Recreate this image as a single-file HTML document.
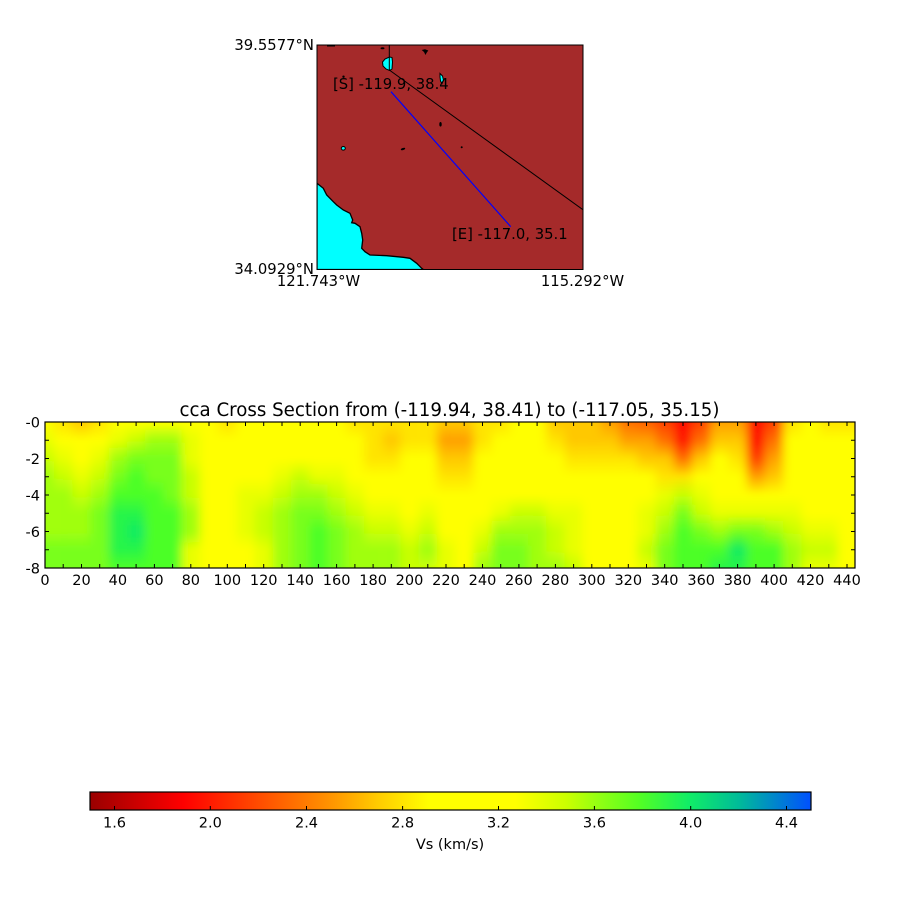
<!DOCTYPE html>
<html><head><meta charset="utf-8"><style>
html,body{margin:0;padding:0;background:#fff;}
svg{display:block;}
text{font-family:"DejaVu Sans","Liberation Sans",sans-serif;fill:#000;}
</style></head><body>
<svg width="900" height="900" viewBox="0 0 900 900" xmlns="http://www.w3.org/2000/svg">
<defs>
<clipPath id="axclip"><rect x="45" y="422" width="810" height="146"/></clipPath>
<clipPath id="mapclip"><rect x="317" y="45" width="266" height="224.5"/></clipPath>
<filter id="bl" filterUnits="userSpaceOnUse" x="-20" y="370" width="940" height="250"><feGaussianBlur stdDeviation="5 3"/></filter>
<linearGradient id="cb" x1="0" y1="0" x2="1" y2="0">
<stop offset="0" stop-color="#990000"/><stop offset="0.13" stop-color="#ff0000"/><stop offset="0.27" stop-color="#ff6600"/><stop offset="0.34" stop-color="#ff9900"/><stop offset="0.40" stop-color="#ffcc00"/><stop offset="0.47" stop-color="#ffff00"/><stop offset="0.59" stop-color="#ffff00"/><stop offset="0.66" stop-color="#ccff00"/><stop offset="0.70" stop-color="#99ff11"/><stop offset="0.76" stop-color="#55ff22"/><stop offset="0.83" stop-color="#11ee66"/><stop offset="0.90" stop-color="#00bb99"/><stop offset="1" stop-color="#0050ff"/>
</linearGradient>
<linearGradient id="c0" gradientUnits="userSpaceOnUse" x1="0" y1="422" x2="0" y2="568"><stop offset="0" stop-color="#ffff00"/><stop offset=".125" stop-color="#e8ff00"/><stop offset=".25" stop-color="#c8ff05"/><stop offset=".375" stop-color="#a0ff10"/><stop offset=".75" stop-color="#a0ff10"/><stop offset=".875" stop-color="#78ff1c"/></linearGradient>
<linearGradient id="c1" gradientUnits="userSpaceOnUse" x1="0" y1="422" x2="0" y2="568"><stop offset="0" stop-color="#ffe400"/><stop offset=".125" stop-color="#ffff00"/><stop offset=".25" stop-color="#e8ff00"/><stop offset=".375" stop-color="#c8ff05"/><stop offset=".5" stop-color="#a0ff10"/><stop offset=".75" stop-color="#a0ff10"/><stop offset=".875" stop-color="#78ff1c"/></linearGradient>
<linearGradient id="c2" gradientUnits="userSpaceOnUse" x1="0" y1="422" x2="0" y2="568"><stop offset="0" stop-color="#ffc800"/><stop offset=".125" stop-color="#ffff00"/><stop offset=".25" stop-color="#ffff00"/><stop offset=".375" stop-color="#e8ff00"/><stop offset=".5" stop-color="#c8ff05"/><stop offset=".625" stop-color="#a0ff10"/><stop offset=".75" stop-color="#a0ff10"/><stop offset=".875" stop-color="#78ff1c"/></linearGradient>
<linearGradient id="c3" gradientUnits="userSpaceOnUse" x1="0" y1="422" x2="0" y2="568"><stop offset="0" stop-color="#ffe400"/><stop offset=".125" stop-color="#ffff00"/><stop offset=".25" stop-color="#e8ff00"/><stop offset=".375" stop-color="#c8ff05"/><stop offset=".5" stop-color="#a0ff10"/><stop offset=".625" stop-color="#78ff1c"/><stop offset="1" stop-color="#78ff1c"/></linearGradient>
<linearGradient id="c4" gradientUnits="userSpaceOnUse" x1="0" y1="422" x2="0" y2="568"><stop offset="0" stop-color="#ffff00"/><stop offset=".125" stop-color="#e8ff00"/><stop offset=".25" stop-color="#a0ff10"/><stop offset=".375" stop-color="#78ff1c"/><stop offset=".5" stop-color="#4cff28"/><stop offset=".625" stop-color="#28f548"/><stop offset=".875" stop-color="#28f548"/><stop offset="1" stop-color="#4cff28"/></linearGradient>
<linearGradient id="c5" gradientUnits="userSpaceOnUse" x1="0" y1="422" x2="0" y2="568"><stop offset="0" stop-color="#ffff00"/><stop offset=".125" stop-color="#c8ff05"/><stop offset=".25" stop-color="#78ff1c"/><stop offset=".375" stop-color="#4cff28"/><stop offset=".5" stop-color="#4cff28"/><stop offset=".625" stop-color="#28f548"/><stop offset=".75" stop-color="#12ec62"/><stop offset=".875" stop-color="#28f548"/><stop offset="1" stop-color="#4cff28"/></linearGradient>
<linearGradient id="c6" gradientUnits="userSpaceOnUse" x1="0" y1="422" x2="0" y2="568"><stop offset="0" stop-color="#ffff00"/><stop offset=".125" stop-color="#a0ff10"/><stop offset=".25" stop-color="#78ff1c"/><stop offset=".375" stop-color="#78ff1c"/><stop offset=".5" stop-color="#4cff28"/><stop offset="1" stop-color="#4cff28"/></linearGradient>
<linearGradient id="c7" gradientUnits="userSpaceOnUse" x1="0" y1="422" x2="0" y2="568"><stop offset="0" stop-color="#ffff00"/><stop offset=".125" stop-color="#a0ff10"/><stop offset=".25" stop-color="#78ff1c"/><stop offset=".5" stop-color="#78ff1c"/><stop offset=".625" stop-color="#4cff28"/><stop offset="1" stop-color="#4cff28"/></linearGradient>
<linearGradient id="c8" gradientUnits="userSpaceOnUse" x1="0" y1="422" x2="0" y2="568"><stop offset="0" stop-color="#ffff00"/><stop offset=".125" stop-color="#e8ff00"/><stop offset=".25" stop-color="#e8ff00"/><stop offset=".375" stop-color="#c8ff05"/><stop offset=".5" stop-color="#c8ff05"/><stop offset=".625" stop-color="#a0ff10"/><stop offset=".75" stop-color="#a0ff10"/><stop offset=".875" stop-color="#e8ff00"/></linearGradient>
<linearGradient id="c9" gradientUnits="userSpaceOnUse" x1="0" y1="422" x2="0" y2="568"><stop offset="0" stop-color="#ffff00"/></linearGradient>
<linearGradient id="c10" gradientUnits="userSpaceOnUse" x1="0" y1="422" x2="0" y2="568"><stop offset="0" stop-color="#ffe400"/><stop offset=".125" stop-color="#ffff00"/></linearGradient>
<linearGradient id="c11" gradientUnits="userSpaceOnUse" x1="0" y1="422" x2="0" y2="568"><stop offset=".375" stop-color="#ffff00"/><stop offset=".5" stop-color="#e8ff00"/><stop offset=".75" stop-color="#e8ff00"/><stop offset=".875" stop-color="#ffff00"/></linearGradient>
<linearGradient id="c12" gradientUnits="userSpaceOnUse" x1="0" y1="422" x2="0" y2="568"><stop offset=".375" stop-color="#ffff00"/><stop offset=".5" stop-color="#e8ff00"/><stop offset=".625" stop-color="#c8ff05"/><stop offset=".75" stop-color="#c8ff05"/><stop offset=".875" stop-color="#e8ff00"/></linearGradient>
<linearGradient id="c13" gradientUnits="userSpaceOnUse" x1="0" y1="422" x2="0" y2="568"><stop offset=".25" stop-color="#ffff00"/><stop offset=".375" stop-color="#e8ff00"/><stop offset=".5" stop-color="#c8ff05"/><stop offset=".625" stop-color="#a0ff10"/></linearGradient>
<linearGradient id="c14" gradientUnits="userSpaceOnUse" x1="0" y1="422" x2="0" y2="568"><stop offset=".25" stop-color="#ffff00"/><stop offset=".375" stop-color="#c8ff05"/><stop offset=".5" stop-color="#a0ff10"/><stop offset=".625" stop-color="#78ff1c"/><stop offset="1" stop-color="#78ff1c"/></linearGradient>
<linearGradient id="c15" gradientUnits="userSpaceOnUse" x1="0" y1="422" x2="0" y2="568"><stop offset=".25" stop-color="#ffff00"/><stop offset=".375" stop-color="#e8ff00"/><stop offset=".5" stop-color="#a0ff10"/><stop offset=".625" stop-color="#78ff1c"/><stop offset=".75" stop-color="#4cff28"/><stop offset="1" stop-color="#4cff28"/></linearGradient>
<linearGradient id="c16" gradientUnits="userSpaceOnUse" x1="0" y1="422" x2="0" y2="568"><stop offset=".25" stop-color="#ffff00"/><stop offset=".375" stop-color="#e8ff00"/><stop offset=".5" stop-color="#c8ff05"/><stop offset=".625" stop-color="#a0ff10"/><stop offset=".75" stop-color="#78ff1c"/></linearGradient>
<linearGradient id="c17" gradientUnits="userSpaceOnUse" x1="0" y1="422" x2="0" y2="568"><stop offset="0" stop-color="#ffe400"/><stop offset=".125" stop-color="#ffff00"/><stop offset=".375" stop-color="#ffff00"/><stop offset=".5" stop-color="#e8ff00"/><stop offset=".625" stop-color="#c8ff05"/><stop offset=".75" stop-color="#a0ff10"/></linearGradient>
<linearGradient id="c18" gradientUnits="userSpaceOnUse" x1="0" y1="422" x2="0" y2="568"><stop offset="0" stop-color="#ffe400"/><stop offset=".25" stop-color="#ffe400"/><stop offset=".375" stop-color="#ffff00"/><stop offset=".5" stop-color="#ffff00"/><stop offset=".625" stop-color="#e8ff00"/><stop offset=".75" stop-color="#c8ff05"/><stop offset=".875" stop-color="#a0ff10"/></linearGradient>
<linearGradient id="c19" gradientUnits="userSpaceOnUse" x1="0" y1="422" x2="0" y2="568"><stop offset="0" stop-color="#ffe400"/><stop offset=".125" stop-color="#ffc800"/><stop offset=".25" stop-color="#ffe400"/><stop offset=".375" stop-color="#ffff00"/><stop offset=".5" stop-color="#ffff00"/><stop offset=".625" stop-color="#e8ff00"/><stop offset=".75" stop-color="#c8ff05"/><stop offset=".875" stop-color="#a0ff10"/></linearGradient>
<linearGradient id="c20" gradientUnits="userSpaceOnUse" x1="0" y1="422" x2="0" y2="568"><stop offset="0" stop-color="#ffe400"/><stop offset=".125" stop-color="#ffe400"/><stop offset=".25" stop-color="#ffff00"/><stop offset=".625" stop-color="#ffff00"/><stop offset=".75" stop-color="#e8ff00"/><stop offset=".875" stop-color="#c8ff05"/></linearGradient>
<linearGradient id="c21" gradientUnits="userSpaceOnUse" x1="0" y1="422" x2="0" y2="568"><stop offset="0" stop-color="#ffe400"/><stop offset=".125" stop-color="#ffe400"/><stop offset=".25" stop-color="#ffff00"/><stop offset=".5" stop-color="#ffff00"/><stop offset=".625" stop-color="#e8ff00"/><stop offset=".75" stop-color="#c8ff05"/><stop offset=".875" stop-color="#a0ff10"/><stop offset="1" stop-color="#c8ff05"/></linearGradient>
<linearGradient id="c22" gradientUnits="userSpaceOnUse" x1="0" y1="422" x2="0" y2="568"><stop offset="0" stop-color="#ffc800"/><stop offset=".125" stop-color="#ffa000"/><stop offset=".25" stop-color="#ffc800"/><stop offset=".375" stop-color="#ffe400"/><stop offset=".5" stop-color="#ffff00"/><stop offset=".75" stop-color="#ffff00"/><stop offset=".875" stop-color="#e8ff00"/></linearGradient>
<linearGradient id="c23" gradientUnits="userSpaceOnUse" x1="0" y1="422" x2="0" y2="568"><stop offset="0" stop-color="#ffc800"/><stop offset=".125" stop-color="#ffa000"/><stop offset=".25" stop-color="#ffc800"/><stop offset=".375" stop-color="#ffe400"/><stop offset=".5" stop-color="#ffff00"/></linearGradient>
<linearGradient id="c24" gradientUnits="userSpaceOnUse" x1="0" y1="422" x2="0" y2="568"><stop offset="0" stop-color="#ffe400"/><stop offset=".125" stop-color="#ffe400"/><stop offset=".25" stop-color="#ffff00"/><stop offset=".625" stop-color="#ffff00"/><stop offset=".75" stop-color="#e8ff00"/><stop offset=".875" stop-color="#c8ff05"/><stop offset="1" stop-color="#a0ff10"/></linearGradient>
<linearGradient id="c25" gradientUnits="userSpaceOnUse" x1="0" y1="422" x2="0" y2="568"><stop offset="0" stop-color="#ffe400"/><stop offset=".125" stop-color="#ffff00"/><stop offset=".5" stop-color="#ffff00"/><stop offset=".625" stop-color="#e8ff00"/><stop offset=".75" stop-color="#a0ff10"/><stop offset=".875" stop-color="#78ff1c"/></linearGradient>
<linearGradient id="c26" gradientUnits="userSpaceOnUse" x1="0" y1="422" x2="0" y2="568"><stop offset=".5" stop-color="#ffff00"/><stop offset=".625" stop-color="#c8ff05"/><stop offset=".75" stop-color="#a0ff10"/><stop offset=".875" stop-color="#78ff1c"/></linearGradient>
<linearGradient id="c27" gradientUnits="userSpaceOnUse" x1="0" y1="422" x2="0" y2="568"><stop offset=".5" stop-color="#ffff00"/><stop offset=".625" stop-color="#c8ff05"/><stop offset=".75" stop-color="#a0ff10"/></linearGradient>
<linearGradient id="c28" gradientUnits="userSpaceOnUse" x1="0" y1="422" x2="0" y2="568"><stop offset="0" stop-color="#ffc800"/><stop offset=".125" stop-color="#ffe400"/><stop offset=".25" stop-color="#ffff00"/><stop offset=".5" stop-color="#ffff00"/><stop offset=".625" stop-color="#e8ff00"/><stop offset=".75" stop-color="#c8ff05"/><stop offset=".875" stop-color="#c8ff05"/><stop offset="1" stop-color="#a0ff10"/></linearGradient>
<linearGradient id="c29" gradientUnits="userSpaceOnUse" x1="0" y1="422" x2="0" y2="568"><stop offset="0" stop-color="#ffc800"/><stop offset=".125" stop-color="#ffc800"/><stop offset=".25" stop-color="#ffe400"/><stop offset=".375" stop-color="#ffff00"/><stop offset=".5" stop-color="#ffff00"/><stop offset=".625" stop-color="#e8ff00"/><stop offset=".875" stop-color="#e8ff00"/><stop offset="1" stop-color="#c8ff05"/></linearGradient>
<linearGradient id="c30" gradientUnits="userSpaceOnUse" x1="0" y1="422" x2="0" y2="568"><stop offset="0" stop-color="#ffc800"/><stop offset=".125" stop-color="#ffc800"/><stop offset=".25" stop-color="#ffe400"/><stop offset=".375" stop-color="#ffff00"/></linearGradient>
<linearGradient id="c31" gradientUnits="userSpaceOnUse" x1="0" y1="422" x2="0" y2="568"><stop offset="0" stop-color="#ffa000"/><stop offset=".125" stop-color="#ffc800"/><stop offset=".25" stop-color="#ffe400"/><stop offset=".375" stop-color="#ffff00"/></linearGradient>
<linearGradient id="c32" gradientUnits="userSpaceOnUse" x1="0" y1="422" x2="0" y2="568"><stop offset="0" stop-color="#ff7000"/><stop offset=".125" stop-color="#ffa000"/><stop offset=".25" stop-color="#ffe400"/><stop offset=".375" stop-color="#ffff00"/></linearGradient>
<linearGradient id="c33" gradientUnits="userSpaceOnUse" x1="0" y1="422" x2="0" y2="568"><stop offset="0" stop-color="#ff6000"/><stop offset=".125" stop-color="#ffa000"/><stop offset=".25" stop-color="#ffc800"/><stop offset=".375" stop-color="#ffff00"/><stop offset=".5" stop-color="#ffff00"/><stop offset=".625" stop-color="#e8ff00"/><stop offset=".75" stop-color="#e8ff00"/><stop offset=".875" stop-color="#c8ff05"/><stop offset="1" stop-color="#e8ff00"/></linearGradient>
<linearGradient id="c34" gradientUnits="userSpaceOnUse" x1="0" y1="422" x2="0" y2="568"><stop offset="0" stop-color="#ff4000"/><stop offset=".125" stop-color="#ff7000"/><stop offset=".25" stop-color="#ffc800"/><stop offset=".375" stop-color="#ffe400"/><stop offset=".5" stop-color="#e8ff00"/><stop offset=".625" stop-color="#c8ff05"/><stop offset=".75" stop-color="#a0ff10"/><stop offset=".875" stop-color="#78ff1c"/></linearGradient>
<linearGradient id="c35" gradientUnits="userSpaceOnUse" x1="0" y1="422" x2="0" y2="568"><stop offset="0" stop-color="#ff0a00"/><stop offset=".125" stop-color="#ff1800"/><stop offset=".25" stop-color="#ff7000"/><stop offset=".375" stop-color="#ffe400"/><stop offset=".5" stop-color="#c8ff05"/><stop offset=".625" stop-color="#78ff1c"/><stop offset=".75" stop-color="#4cff28"/></linearGradient>
<linearGradient id="c36" gradientUnits="userSpaceOnUse" x1="0" y1="422" x2="0" y2="568"><stop offset="0" stop-color="#ff4000"/><stop offset=".125" stop-color="#ff7000"/><stop offset=".25" stop-color="#ffc800"/><stop offset=".375" stop-color="#ffff00"/><stop offset=".5" stop-color="#e8ff00"/><stop offset=".625" stop-color="#c8ff05"/><stop offset=".75" stop-color="#78ff1c"/><stop offset=".875" stop-color="#4cff28"/></linearGradient>
<linearGradient id="c37" gradientUnits="userSpaceOnUse" x1="0" y1="422" x2="0" y2="568"><stop offset="0" stop-color="#ffa000"/><stop offset=".125" stop-color="#ffc800"/><stop offset=".25" stop-color="#ffff00"/><stop offset=".5" stop-color="#ffff00"/><stop offset=".625" stop-color="#e8ff00"/><stop offset=".75" stop-color="#a0ff10"/><stop offset=".875" stop-color="#4cff28"/><stop offset="1" stop-color="#28f548"/></linearGradient>
<linearGradient id="c38" gradientUnits="userSpaceOnUse" x1="0" y1="422" x2="0" y2="568"><stop offset="0" stop-color="#ffa000"/><stop offset=".125" stop-color="#ffc800"/><stop offset=".25" stop-color="#ffe400"/><stop offset=".375" stop-color="#ffff00"/><stop offset=".5" stop-color="#ffff00"/><stop offset=".625" stop-color="#e8ff00"/><stop offset=".75" stop-color="#78ff1c"/><stop offset=".875" stop-color="#12ec62"/><stop offset="1" stop-color="#28f548"/></linearGradient>
<linearGradient id="c39" gradientUnits="userSpaceOnUse" x1="0" y1="422" x2="0" y2="568"><stop offset="0" stop-color="#ff0a00"/><stop offset=".125" stop-color="#ff0a00"/><stop offset=".25" stop-color="#ff4000"/><stop offset=".375" stop-color="#ffa000"/><stop offset=".5" stop-color="#ffff00"/><stop offset=".625" stop-color="#e8ff00"/><stop offset=".75" stop-color="#78ff1c"/><stop offset=".875" stop-color="#4cff28"/></linearGradient>
<linearGradient id="c40" gradientUnits="userSpaceOnUse" x1="0" y1="422" x2="0" y2="568"><stop offset="0" stop-color="#ff4000"/><stop offset=".125" stop-color="#ff7000"/><stop offset=".25" stop-color="#ffa000"/><stop offset=".375" stop-color="#ffc800"/><stop offset=".5" stop-color="#ffff00"/><stop offset=".625" stop-color="#e8ff00"/><stop offset=".75" stop-color="#a0ff10"/><stop offset=".875" stop-color="#4cff28"/></linearGradient>
<linearGradient id="c41" gradientUnits="userSpaceOnUse" x1="0" y1="422" x2="0" y2="568"><stop offset="0" stop-color="#ffe400"/><stop offset=".125" stop-color="#ffff00"/><stop offset=".5" stop-color="#ffff00"/><stop offset=".625" stop-color="#e8ff00"/><stop offset=".75" stop-color="#c8ff05"/><stop offset=".875" stop-color="#a0ff10"/></linearGradient>
<linearGradient id="c42" gradientUnits="userSpaceOnUse" x1="0" y1="422" x2="0" y2="568"><stop offset=".625" stop-color="#ffff00"/><stop offset=".75" stop-color="#e8ff00"/><stop offset=".875" stop-color="#c8ff05"/><stop offset="1" stop-color="#e8ff00"/></linearGradient>
<linearGradient id="c43" gradientUnits="userSpaceOnUse" x1="0" y1="422" x2="0" y2="568"><stop offset="0" stop-color="#ffe400"/><stop offset=".125" stop-color="#ffff00"/><stop offset=".625" stop-color="#ffff00"/><stop offset=".75" stop-color="#e8ff00"/><stop offset=".875" stop-color="#c8ff05"/><stop offset="1" stop-color="#e8ff00"/></linearGradient>
<linearGradient id="c44" gradientUnits="userSpaceOnUse" x1="0" y1="422" x2="0" y2="568"><stop offset="0" stop-color="#ffe400"/><stop offset=".125" stop-color="#ffff00"/></linearGradient>
</defs>

<!-- MAP -->
<g clip-path="url(#mapclip)">
<rect x="317" y="45" width="266" height="224.5" fill="#a52a2a"/>
<polygon points="317,183.3 323.3,188.3 326.7,195 333.3,201.7 336.7,205 343.3,210 350,213.3 352.7,220 351.7,222.7 355,223.3 360,226.7 361.7,233.3 362.7,240 361.7,248.3 365,251.7 370,255 386.7,255.7 403.3,257.3 410,258.3 416.7,263.3 421.7,268.3 423.3,269.5 317,269.5" fill="#00ffff" stroke="#000" stroke-width="1.3"/>
<polygon points="389.5,57 392,57.5 392.5,62 392,69 389.5,70.5 386,69 383,66 382.5,62 385,59" fill="#00ffff" stroke="#000" stroke-width="1"/>
<polygon points="440,73.5 442.5,76 443.5,80 442,83.5 440.5,81 440,77" fill="#00ffff" stroke="#000" stroke-width="1"/>
<ellipse cx="343.3" cy="148.3" rx="2" ry="1.8" fill="#00ffff" stroke="#000" stroke-width="1"/>
<rect x="327" y="45" width="8" height="1.5" fill="#000"/>
<ellipse cx="382.5" cy="48.3" rx="2" ry="1" fill="#000"/>
<polygon points="421.7,50 425,49.3 428.3,50.5 426.5,53 425.5,55 424,52" fill="#000"/>
<ellipse cx="440.5" cy="124.3" rx="1.2" ry="2.3" fill="#000"/>
<ellipse cx="403" cy="149" rx="2.3" ry="1" fill="#000" transform="rotate(-20 403 149)"/>
<circle cx="461.7" cy="147.3" r="1" fill="#000"/>
<circle cx="343.5" cy="76.7" r="1.2" fill="#000"/>
<line x1="389.3" y1="45" x2="389.3" y2="70" stroke="#000" stroke-width="1"/>
<line x1="389.3" y1="70" x2="583.3" y2="210" stroke="#000" stroke-width="1"/>
<line x1="391" y1="91.7" x2="510.7" y2="226.7" stroke="#0000ff" stroke-width="1.2"/>
</g>
<rect x="317" y="45" width="266" height="224.5" fill="none" stroke="#000" stroke-width="1"/>
<text x="333" y="89" font-size="14.8">[S] -119.9, 38.4</text>
<text x="452" y="239" font-size="14.8">[E] -117.0, 35.1</text>
<text x="314" y="50" font-size="14.8" text-anchor="end">39.5577°N</text>
<text x="314" y="274" font-size="14.8" text-anchor="end">34.0929°N</text>
<text x="318.5" y="286" font-size="14.8" text-anchor="middle">121.743°W</text>
<text x="582.5" y="286" font-size="14.8" text-anchor="middle">115.292°W</text>

<!-- CROSS SECTION -->
<text x="449.5" y="416" font-size="18.2" text-anchor="middle">cca Cross Section from (-119.94, 38.41) to (-117.05, 35.15)</text>

<g clip-path="url(#axclip)">
<rect x="40" y="417" width="820" height="156" fill="#ffff00"/>
<g filter="url(#bl)">
<rect x="10" y="390" width="44.2" height="210" fill="url(#c0)"/>
<rect x="54.1" y="390" width="18.4" height="210" fill="url(#c1)"/>
<rect x="72.3" y="390" width="18.4" height="210" fill="url(#c2)"/>
<rect x="90.5" y="390" width="18.4" height="210" fill="url(#c3)"/>
<rect x="108.8" y="390" width="18.4" height="210" fill="url(#c4)"/>
<rect x="127.0" y="390" width="18.4" height="210" fill="url(#c5)"/>
<rect x="145.2" y="390" width="18.4" height="210" fill="url(#c6)"/>
<rect x="163.5" y="390" width="18.4" height="210" fill="url(#c7)"/>
<rect x="181.7" y="390" width="18.4" height="210" fill="url(#c8)"/>
<rect x="199.9" y="390" width="18.4" height="210" fill="url(#c9)"/>
<rect x="218.2" y="390" width="18.4" height="210" fill="url(#c10)"/>
<rect x="236.4" y="390" width="18.4" height="210" fill="url(#c11)"/>
<rect x="254.6" y="390" width="18.4" height="210" fill="url(#c12)"/>
<rect x="272.8" y="390" width="18.4" height="210" fill="url(#c13)"/>
<rect x="291.1" y="390" width="18.4" height="210" fill="url(#c14)"/>
<rect x="309.3" y="390" width="18.4" height="210" fill="url(#c15)"/>
<rect x="327.5" y="390" width="18.4" height="210" fill="url(#c16)"/>
<rect x="345.7" y="390" width="18.4" height="210" fill="url(#c17)"/>
<rect x="364.0" y="390" width="18.4" height="210" fill="url(#c18)"/>
<rect x="382.2" y="390" width="18.4" height="210" fill="url(#c19)"/>
<rect x="400.4" y="390" width="18.4" height="210" fill="url(#c20)"/>
<rect x="418.7" y="390" width="18.4" height="210" fill="url(#c21)"/>
<rect x="436.9" y="390" width="18.4" height="210" fill="url(#c22)"/>
<rect x="455.1" y="390" width="18.4" height="210" fill="url(#c23)"/>
<rect x="473.3" y="390" width="18.4" height="210" fill="url(#c24)"/>
<rect x="491.6" y="390" width="18.4" height="210" fill="url(#c25)"/>
<rect x="509.8" y="390" width="18.4" height="210" fill="url(#c26)"/>
<rect x="528.0" y="390" width="18.4" height="210" fill="url(#c27)"/>
<rect x="546.2" y="390" width="18.4" height="210" fill="url(#c28)"/>
<rect x="564.5" y="390" width="18.4" height="210" fill="url(#c29)"/>
<rect x="582.7" y="390" width="18.4" height="210" fill="url(#c30)"/>
<rect x="600.9" y="390" width="18.4" height="210" fill="url(#c31)"/>
<rect x="619.1" y="390" width="18.4" height="210" fill="url(#c32)"/>
<rect x="637.4" y="390" width="18.4" height="210" fill="url(#c33)"/>
<rect x="655.6" y="390" width="18.4" height="210" fill="url(#c34)"/>
<rect x="673.8" y="390" width="18.4" height="210" fill="url(#c35)"/>
<rect x="692.1" y="390" width="18.4" height="210" fill="url(#c36)"/>
<rect x="710.3" y="390" width="18.4" height="210" fill="url(#c37)"/>
<rect x="728.5" y="390" width="18.4" height="210" fill="url(#c38)"/>
<rect x="746.7" y="390" width="18.4" height="210" fill="url(#c39)"/>
<rect x="765.0" y="390" width="18.4" height="210" fill="url(#c40)"/>
<rect x="783.2" y="390" width="18.4" height="210" fill="url(#c41)"/>
<rect x="801.4" y="390" width="18.4" height="210" fill="url(#c42)"/>
<rect x="819.6" y="390" width="18.4" height="210" fill="url(#c43)"/>
<rect x="837.9" y="390" width="52" height="210" fill="url(#c44)"/>
</g>
</g>
<rect x="45" y="422" width="810" height="146" fill="none" stroke="#000" stroke-width="1.2"/>
<path stroke="#000" stroke-width="1" fill="none" d="M63.2 422v4M81.5 422v4M99.7 422v4M117.9 422v4M136.1 422v4M154.4 422v4M172.6 422v4M190.8 422v4M209 422v4M227.3 422v4M245.5 422v4M263.7 422v4M282 422v4M300.2 422v4M318.4 422v4M336.6 422v4M354.9 422v4M373.1 422v4M391.3 422v4M409.5 422v4M427.8 422v4M446 422v4M464.2 422v4M482.5 422v4M500.7 422v4M518.9 422v4M537.1 422v4M555.4 422v4M573.6 422v4M591.8 422v4M610 422v4M628.3 422v4M646.5 422v4M664.7 422v4M683 422v4M701.2 422v4M719.4 422v4M737.6 422v4M755.9 422v4M774.1 422v4M792.3 422v4M810.5 422v4M828.8 422v4M847 422v4M63.2 568v-4M81.5 568v-4M99.7 568v-4M117.9 568v-4M136.1 568v-4M154.4 568v-4M172.6 568v-4M190.8 568v-4M209 568v-4M227.3 568v-4M245.5 568v-4M263.7 568v-4M282 568v-4M300.2 568v-4M318.4 568v-4M336.6 568v-4M354.9 568v-4M373.1 568v-4M391.3 568v-4M409.5 568v-4M427.8 568v-4M446 568v-4M464.2 568v-4M482.5 568v-4M500.7 568v-4M518.9 568v-4M537.1 568v-4M555.4 568v-4M573.6 568v-4M591.8 568v-4M610 568v-4M628.3 568v-4M646.5 568v-4M664.7 568v-4M683 568v-4M701.2 568v-4M719.4 568v-4M737.6 568v-4M755.9 568v-4M774.1 568v-4M792.3 568v-4M810.5 568v-4M828.8 568v-4M847 568v-4M45 440.25h4M45 458.5h4M45 476.75h4M45 495h4M45 513.25h4M45 531.5h4M45 549.75h4M855 440.25h-4M855 458.5h-4M855 476.75h-4M855 495h-4M855 513.25h-4M855 531.5h-4M855 549.75h-4"/>
<g font-size="14.5" text-anchor="end">
<text x="40" y="427.3">-0</text>
<text x="40" y="463.8">-2</text>
<text x="40" y="500.3">-4</text>
<text x="40" y="536.8">-6</text>
<text x="40" y="573.3">-8</text>
</g>
<g font-size="14.5" text-anchor="middle">
<text x="45" y="585">0</text>
<text x="81.5" y="585">20</text>
<text x="117.9" y="585">40</text>
<text x="154.4" y="585">60</text>
<text x="190.8" y="585">80</text>
<text x="227.3" y="585">100</text>
<text x="263.7" y="585">120</text>
<text x="300.2" y="585">140</text>
<text x="336.6" y="585">160</text>
<text x="373.1" y="585">180</text>
<text x="409.5" y="585">200</text>
<text x="446" y="585">220</text>
<text x="482.5" y="585">240</text>
<text x="518.9" y="585">260</text>
<text x="555.4" y="585">280</text>
<text x="591.8" y="585">300</text>
<text x="628.3" y="585">320</text>
<text x="664.7" y="585">340</text>
<text x="701.2" y="585">360</text>
<text x="737.6" y="585">380</text>
<text x="774.1" y="585">400</text>
<text x="810.5" y="585">420</text>
<text x="847" y="585">440</text>
</g>

<!-- COLORBAR -->
<rect x="90" y="792" width="721" height="18" fill="url(#cb)" stroke="#000" stroke-width="1.2"/>
<path stroke="#000" stroke-width="1" d="M114.5 810v-4M210.3 810v-4M306.5 810v-4M402.6 810v-4M498.5 810v-4M594.4 810v-4M690.7 810v-4M786.5 810v-4"/>
<g font-size="14.5" text-anchor="middle">
<text x="114.5" y="827.5">1.6</text>
<text x="210.3" y="827.5">2.0</text>
<text x="306.5" y="827.5">2.4</text>
<text x="402.6" y="827.5">2.8</text>
<text x="498.5" y="827.5">3.2</text>
<text x="594.4" y="827.5">3.6</text>
<text x="690.7" y="827.5">4.0</text>
<text x="786.5" y="827.5">4.4</text>
<text x="450" y="849">Vs (km/s)</text>
</g>
</svg>
</body></html>
